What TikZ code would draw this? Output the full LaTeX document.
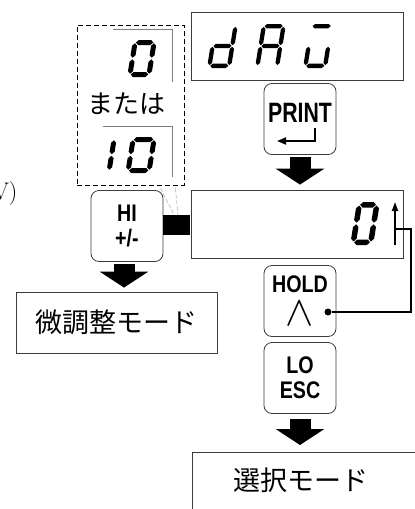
\documentclass[tikz,border=0pt]{standalone}
\usepackage{fontspec}
\usepackage{graphicx}
\usepackage{tikz}
\usetikzlibrary{arrows.meta}
\newfontfamily\keyfont[FakeStretch=0.82]{Liberation Sans}
\newfontfamily\printfont[FakeStretch=0.76]{Liberation Sans}
\newfontfamily\jpfont{Noto Sans CJK JP}

% seven-segment pieces (width, height, stroke, gap)
\def\sW{24}\def\sH{44}\def\sth{5}\def\sgap{0.8}
\newcommand\hseg[3]{\fill ({#1+\sgap},{#3}) -- ({#1+\sgap+\sth/2},{#3-\sth/2}) -- ({#2-\sgap-\sth/2},{#3-\sth/2}) -- ({#2-\sgap},{#3}) -- ({#2-\sgap-\sth/2},{#3+\sth/2}) -- ({#1+\sgap+\sth/2},{#3+\sth/2}) -- cycle;}
\newcommand\vseg[3]{\fill ({#1},{#2+\sgap}) -- ({#1+\sth/2},{#2+\sgap+\sth/2}) -- ({#1+\sth/2},{#3-\sgap-\sth/2}) -- ({#1},{#3-\sgap}) -- ({#1-\sth/2},{#3-\sgap-\sth/2}) -- ({#1-\sth/2},{#2+\sgap+\sth/2}) -- cycle;}
\newcommand\sega{\hseg{\sth/2}{\sW-\sth/2}{\sth/2}}
\newcommand\segb{\vseg{\sW-\sth/2}{\sth/2}{\sH/2}}
\newcommand\segc{\vseg{\sW-\sth/2}{\sH/2}{\sH-\sth/2}}
\newcommand\segd{\hseg{\sth/2}{\sW-\sth/2}{\sH-\sth/2}}
\newcommand\sege{\vseg{\sth/2}{\sH/2}{\sH-\sth/2}}
\newcommand\segf{\vseg{\sth/2}{\sth/2}{\sH/2}}
\newcommand\segg{\hseg{\sth/2}{\sW-\sth/2}{\sH/2}}
\newcommand\sevenseg[3]{\begin{scope}[shift={(#1,#2)},xslant=0.16]\foreach \sgm in {#3}{\csname seg\sgm\endcsname}\end{scope}}

\begin{document}
\begin{tikzpicture}[x=1pt,y=-1pt,
  dispbox/.style={draw=cframe,line width=0.8pt,minimum width=212pt,minimum height=68pt,inner sep=0pt},
  keybox/.style={draw=cframe,line width=0.8pt,rounded corners=8pt,minimum width=72pt,minimum height=71pt,inner sep=0pt,align=center,font=\keyfont\bfseries\fontsize{24}{25}\selectfont},
  modebox/.style={draw=cframe,line width=0.8pt,font=\jpfont\fontsize{27}{30}\selectfont},
  blockarrow/.style={line width=21pt,-{Triangle[width=48pt,length=16pt]}},
  fragline/.style={cfrag,line width=0.9pt},
  callout/.style={gray!60,line width=0.6pt,dash pattern=on 4pt off 2pt},
  thinarrow/.style={line width=1.8pt}]
  \definecolor{cframe}{RGB}{60,60,60}
  \definecolor{cfrag}{RGB}{125,125,125}
  \useasboundingbox (0,0) rectangle (415,509);
  \node[anchor=base east,font=\fontsize{24}{28}\selectfont] (unitv) at (21,199) {V)};
  % displays
  \node[dispbox] (topdisp) at (297,46) {};
  \node[dispbox] (valdisp) at (297,224) {};
  \def\sth{4.3}
  \sevenseg{214}{24}{b,c,d,e,g}
  \sevenseg{262}{24}{a,b,c,e,f,g}
  \sevenseg{310}{24}{a,c,d,e}
  \def\sth{5.5}\def\sH{43}\def\sW{23}
  \sevenseg{357}{202}{a,b,c,d,e,f}
  % keys
  \node[keybox] (printkey) at (300,119) {};
  \node[font=\printfont\bfseries\fontsize{28}{30}\selectfont,anchor=base] (printtxt) at (300,122) {PRINT};
  \draw[thinarrow,-{Triangle[width=7pt,length=9pt]}] ([shift={(15,9)}]printkey.center) |- ([shift={(-23,22)}]printkey.center);
  \node[keybox] (hikey) at (127,226) {HI\\+/-};
  \node[keybox] (holdkey) at (300,301) {HOLD\\[8pt]\scalebox{1.7}{$\wedge$}};
  \node[keybox] (lokey) at (300,378) {LO\\ESC};
  \node[fill=black,minimum width=27pt,minimum height=20pt,inner sep=0pt] (link) at (176,225) {};
  % modes
  \node[modebox,minimum width=201pt,minimum height=61pt] (finemode) at (116.5,322.5) {微調整モード};
  \node[modebox,anchor=north west,inner xsep=41pt,inner ysep=0pt,text height=38pt,text depth=52pt,text width=230pt,align=left] (selmode) at (192,452) {選択モード};
  \draw[blockarrow,shorten <=2pt,shorten >=5pt] (printkey.south) -- (printkey.south |- valdisp.north);
  \coordinate (hiout) at ([xshift=-3pt]hikey.south);
  \draw[blockarrow,shorten <=2pt,shorten >=4pt] (hiout) -- (hiout |- finemode.north);
  \draw[blockarrow,shorten <=5pt,shorten >=7pt] (lokey.south) -- (lokey.south |- selmode.north);
  % choice of first digits
  \node[draw,line width=0.9pt,dash pattern=on 5pt off 3pt,minimum width=107pt,minimum height=160pt,inner sep=0pt] (choice) at (130.5,105) {};
  \draw[fragline] (113,29) -| (172,82);
  \draw[fragline] (103,126) -| (172,177);
  \def\sth{5}\def\sH{37}\def\sW{24}
  \sevenseg{133}{40}{a,b,c,d,e,f}
  \def\sH{36}\def\sW{26}
  \sevenseg{131}{137}{a,b,c,d,e,f}
  \sevenseg{91}{137}{b,c}
  \node[font=\jpfont\fontsize{26}{28}\selectfont] (ortxt) at (126,104) {または};
  \draw[callout] ([shift={(-24,3)}]choice.south east) -- ([xshift=-2pt]link.north);
  \draw[callout] ([shift={(-9,3)}]choice.south east) -- ([xshift=2pt]link.north);
  % digit selection loop
  \coordinate (upfoot) at (395,245);
  \coordinate (uphead) at (395,202);
  \draw[thinarrow,-{Triangle[width=6pt,length=9pt]}] (upfoot) -- (uphead);
  \node[circle,fill=black,inner sep=0pt,minimum size=7pt] (holddot) at (328,312) {};
  \coordinate (feedturn) at (411,229);
  \draw[thinarrow] (holddot) -| (feedturn) -- (feedturn -| upfoot);
\end{tikzpicture}
\end{document}
